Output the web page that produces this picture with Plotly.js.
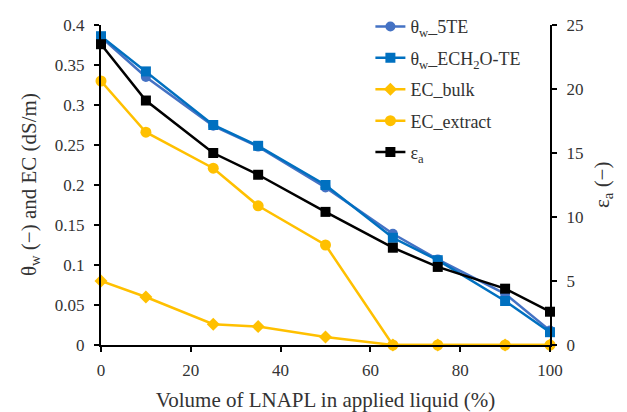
<!DOCTYPE html>
<html>
<head>
<meta charset="utf-8">
<script src="https://cdn.plot.ly/plotly-3.0.1.min.js"></script>
<style>html,body{margin:0;padding:0;background:#fff;}#chart{width:627px;height:412px;}</style>
</head>
<body>
<div id="chart"></div>
<script>
// Data
const volumeLNAPL = [0, 10, 25, 35, 50, 65, 75, 90, 100];
const thetaW_5TE = [0.385, 0.335, 0.274, 0.248, 0.197, 0.139, 0.107, 0.064, 0.018];
const thetaW_ECH2O = [0.386, 0.342, 0.275, 0.249, 0.200, 0.134, 0.106, 0.055, 0.016];
const ecBulk = [0.080, 0.060, 0.026, 0.023, 0.010, 0, 0, 0, 0];
const ecExtract = [0.330, 0.266, 0.221, 0.174, 0.125, 0, 0, 0, 0];
const epsA = [23.5, 19.1, 15.0, 13.3, 10.4, 7.6, 6.1, 4.4, 2.6];

const leftTickVals = [0, 0.05, 0.1, 0.15, 0.2, 0.25, 0.3, 0.35, 0.4];
const leftTickText = ["0", "0.05", "0.1", "0.15", "0.2", "0.25", "0.3", "0.35", "0.4"];
const rightTickVals = [0, 5, 10, 15, 20, 25];
const xTickVals = [0, 20, 40, 60, 80, 100];

const FONT = "Liberation Serif";
const fontColor = "#333333";

const traces = [
  {x: volumeLNAPL, y: thetaW_5TE, name: "θ<sub>w</sub>_5TE", mode: "lines+markers", legendgroup: "a",
   line: {color: "#4472C4", width: 2.5}, marker: {symbol: "circle", size: 10, color: "#4472C4"}, cliponaxis: false},
  {x: volumeLNAPL, y: thetaW_ECH2O, name: "θ<sub>w</sub>_ECH<sub>2</sub>O-TE", mode: "lines+markers", legendgroup: "b",
   line: {color: "#0070C0", width: 2.5}, marker: {symbol: "square", size: 10, color: "#0070C0"}, cliponaxis: false},
  {x: volumeLNAPL, y: ecBulk, name: "EC_bulk", mode: "lines+markers", legendgroup: "c",
   line: {color: "#FFC000", width: 2.5}, marker: {symbol: "diamond", size: 10, color: "#FFC000"}, cliponaxis: false},
  {x: volumeLNAPL, y: ecExtract, name: "EC_extract", mode: "lines+markers", legendgroup: "d",
   line: {color: "#FFC000", width: 2.5}, marker: {symbol: "circle", size: 11, color: "#FFC000"}, cliponaxis: false},
  {x: volumeLNAPL, y: epsA, name: "ε<sub>a</sub>", mode: "lines+markers", yaxis: "y2", legendgroup: "e",
   line: {color: "#000000", width: 2.5}, marker: {symbol: "square", size: 10, color: "#000000"}, cliponaxis: false}
];

const layout = {
  width: 627, height: 412,
  margin: {l: 101, r: 77, t: 25, b: 67, autoexpand: false},
  paper_bgcolor: "#ffffff", plot_bgcolor: "#ffffff",
  font: {family: FONT, size: 17, color: fontColor},
  showlegend: true,
  legend: {x: 0.6, y: 0.98, yref: "container", xanchor: "left", yanchor: "top", bgcolor: "rgba(0,0,0,0)",
           font: {family: FONT, size: 18, color: fontColor}, tracegroupgap: 5},
  xaxis: {range: [0, 100], tickvals: xTickVals, showgrid: false, zeroline: false,
          showline: true, linecolor: "#000", linewidth: 2, ticks: "outside", tickcolor: "#000",
          tickwidth: 2, ticklen: 5, ticklabelstandoff: 4,
          title: {text: "Volume of LNAPL in applied liquid (%)", font: {family: FONT, size: 21, color: fontColor}, standoff: 15}},
  yaxis: {range: [0, 0.4], tickvals: leftTickVals, ticktext: leftTickText, showgrid: false, zeroline: false,
          showline: true, linecolor: "#000", linewidth: 2, ticks: "outside", tickcolor: "#000",
          tickwidth: 2, ticklen: 5, ticklabelstandoff: 6},
  yaxis2: {range: [0, 25], tickvals: rightTickVals, overlaying: "y", side: "right", showgrid: false, zeroline: false,
           showline: true, linecolor: "#000", linewidth: 2, ticks: "outside", tickcolor: "#000",
           tickwidth: 2, ticklen: 5, ticklabelstandoff: 6},
  annotations: [
    {text: "θ<sub>w</sub> (−) and EC (dS/m)", xref: "paper", yref: "paper", x: -0.158, y: 0.5,
     xanchor: "center", yanchor: "middle", textangle: -90, showarrow: false,
     font: {family: FONT, size: 21, color: fontColor}},
    {text: "ε<sub>a</sub> (−)", xref: "paper", yref: "paper", x: 1.118, y: 0.5,
     xanchor: "center", yanchor: "middle", textangle: -90, showarrow: false,
     font: {family: FONT, size: 21, color: fontColor}}
  ]
};

Plotly.newPlot("chart", traces, layout, {displayModeBar: false, staticPlot: true});
</script>
</body>
</html>
